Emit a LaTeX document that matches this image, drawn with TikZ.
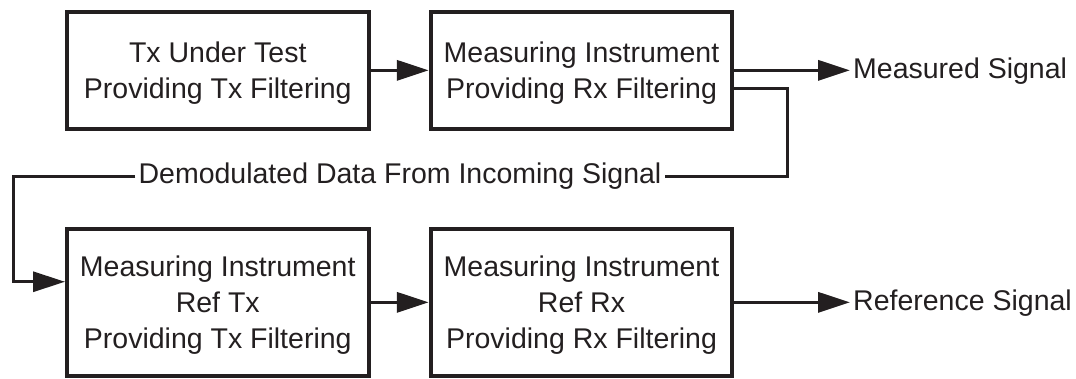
\documentclass[tikz,border=0pt]{standalone}
\usepackage{fontspec}
\setmainfont{Liberation Sans}
\usetikzlibrary{arrows.meta}
\definecolor{ink}{RGB}{35,31,32}
\begin{document}
\begin{tikzpicture}[x=1pt,y=-1pt,
  every node/.style={font=\fontsize{28.5}{36.3}\selectfont, text=ink},
  blk/.style={draw=ink, line width=4pt, align=center, inner sep=0pt, text depth=0pt},
  toprow/.style={blk, minimum width=301.5pt, minimum height=116.7pt},
  botrow/.style={blk, minimum width=301.5pt, minimum height=146.7pt},
  tip/.style={-{Triangle[length=32pt,width=20pt]}},
  conn/.style={draw=ink, line width=3.5pt, tip},
  fb/.style={draw=ink, line width=3pt},
  lbl/.style={inner sep=3pt}
]
\path[use as bounding box] (0,0) rectangle (1076,379);

\node[toprow] (b1) at (217.75,70.35) {Tx Under Test\\Providing Tx Filtering};
\node[toprow] (b2) at (581.5,70.35) {Measuring Instrument\\Providing Rx Filtering};
\node[botrow] (b3) at (217.75,302.35) {Measuring Instrument\\Ref Tx\\Providing Tx Filtering};
\node[botrow] (b4) at (581.5,302.35) {Measuring Instrument\\Ref Rx\\Providing Rx Filtering};

\node[lbl, anchor=west] (meas) at (850,71) {Measured Signal};
\node[lbl, anchor=west] (ref) at (850,303) {Reference Signal};
\node[lbl] (demod) at (400,176.5) {Demodulated Data From Incoming Signal};

\coordinate (c1) at (787,176.5);
\coordinate (c2) at (13.3,176.5);

\draw[conn] (b1) -- (b2);
\draw[conn] (b3) -- (b4);
\draw[conn] (b2.east) -- (b2.east -| meas.west);
\draw[conn] (b4.east) -- (b4.east -| ref.west);

\draw[fb] ([yshift=-18.6pt]b2.east) -| (c1) -- (demod.east);
\draw[fb, tip] (demod.west) -- (c2) |- ([yshift=20.6pt]b3.west);
\end{tikzpicture}
\end{document}
